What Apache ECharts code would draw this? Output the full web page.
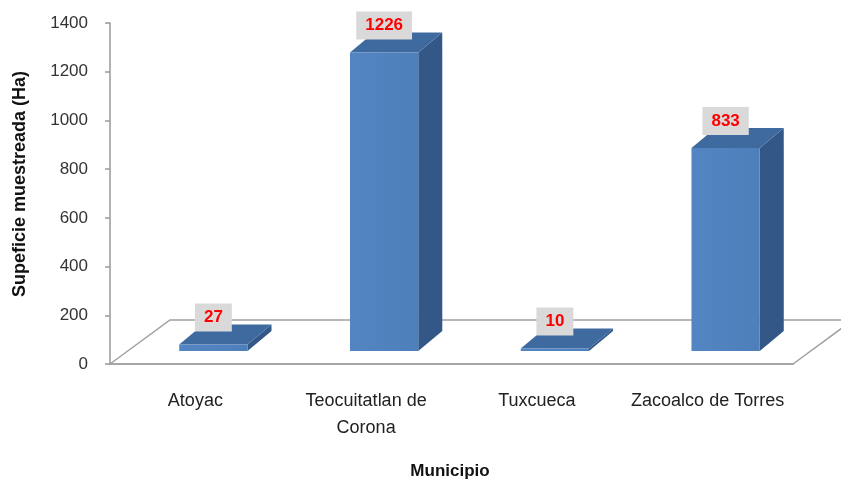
<!DOCTYPE html>
<html>
<head>
<meta charset="utf-8">
<script src="https://cdn.jsdelivr.net/npm/echarts@6/dist/echarts.min.js"></script>
<style>html,body{margin:0;padding:0;background:#fff}#c{width:841px;height:481px}</style>
</head>
<body>
<div id="c"></div>
<script>
const categories = ['Atoyac', 'Teocuitatlan de\nCorona', 'Tuxcueca', 'Zacoalco de Torres'];
const values = [27, 1226, 10, 833];
const yMin = 0, yMax = 1400, yInterval = 200;
const yTitle = 'Supeficie muestreada (Ha)';
const xTitle = 'Municipio';

const FONT = '"Liberation Sans", Arial, sans-serif';
const chart = echarts.init(document.getElementById('c'), null, {renderer: 'canvas'});

// 3D geometry (pixels)
const FLOOR_DX = 60, FLOOR_DY = -44;
const FRONT_DX = 18, FRONT_DY = -13;
const DEPTH_DX = 24, DEPTH_DY = -20;

function renderFloor(params, api) {
  const cs = params.coordSys;
  const x0 = cs.x, y0 = cs.y + cs.height, x1 = cs.x + cs.width;
  return {
    type: 'polyline',
    shape: {points: [[x0, y0], [x0 + FLOOR_DX, y0 + FLOOR_DY], [x1 + FLOOR_DX, y0 + FLOOR_DY], [x1, y0]]},
    style: {stroke: '#a0a0a0', lineWidth: 1.5, fill: null},
    silent: true
  };
}

function renderBar(params, api) {
  const idx = api.value(0), v = api.value(1);
  const pt = api.coord([idx, v]);
  const base = api.coord([idx, 0]);
  const band = api.size([1, 0])[0];
  const w = band * 0.4;
  const x0 = pt[0] - w / 2 + FRONT_DX, x1 = x0 + w;
  const yTop = pt[1] + FRONT_DY, yBot = base[1] + FRONT_DY;
  const cx = (x0 + x1) / 2;
  return {
    type: 'group',
    children: [
      {type: 'polygon', shape: {points: [[x1, yBot], [x1 + DEPTH_DX, yBot + DEPTH_DY], [x1 + DEPTH_DX, yTop + DEPTH_DY], [x1, yTop]]},
        style: {fill: '#335887'}},
      {type: 'polygon', shape: {points: [[x0, yTop], [x1, yTop], [x1 + DEPTH_DX, yTop + DEPTH_DY], [x0 + DEPTH_DX, yTop + DEPTH_DY]]},
        style: {fill: '#3e6a9f'}},
      {type: 'rect', shape: {x: x0, y: yTop, width: w, height: Math.max(yBot - yTop, 0.5)},
        style: {fill: new echarts.graphic.LinearGradient(0, 0, 1, 0, [{offset: 0, color: '#5285c2'}, {offset: 1, color: '#4d7fbb'}])}},
      {type: 'text', x: cx, y: yTop + DEPTH_DY - 7, z2: 10,
        style: {text: String(v), align: 'center', verticalAlign: 'middle', fill: '#ff0000',
          font: 'bold 17px ' + FONT, backgroundColor: '#d9d9d9', padding: [6, 9, 5, 9]}}
    ]
  };
}

chart.setOption({
  animation: false,
  backgroundColor: '#ffffff',
  grid: {left: 110, top: 23, width: 683, height: 341, containLabel: false},
  xAxis: {
    type: 'category', data: categories,
    axisLine: {show: true, lineStyle: {color: '#a6a6a6', width: 2}},
    axisTick: {show: false},
    axisLabel: {fontSize: 18, lineHeight: 27, margin: 24, color: '#222', fontFamily: FONT, interval: 0}
  },
  yAxis: {
    type: 'value', min: yMin, max: yMax, interval: yInterval,
    axisLine: {show: true, lineStyle: {color: '#999', width: 1.5}},
    axisTick: {show: true, length: 5, lineStyle: {color: '#999', width: 1.5}},
    axisLabel: {fontSize: 17, margin: 22, color: '#333', fontFamily: FONT, formatter: v => String(v)},
    splitLine: {show: false}
  },
  graphic: [
    {type: 'text', x: 20, y: 184, rotation: Math.PI / 2,
      style: {text: yTitle, align: 'center', verticalAlign: 'middle', fill: '#111', font: 'bold 18px ' + FONT}},
    {type: 'text', x: 450, y: 471,
      style: {text: xTitle, align: 'center', verticalAlign: 'middle', fill: '#111', font: 'bold 17px ' + FONT}}
  ],
  series: [
    {type: 'custom', renderItem: renderFloor, data: [[0]], z: 1, silent: true},
    {type: 'custom', renderItem: renderBar, data: values.map((v, i) => [i, v]), z: 2, clip: false}
  ]
});
</script>
</body>
</html>
